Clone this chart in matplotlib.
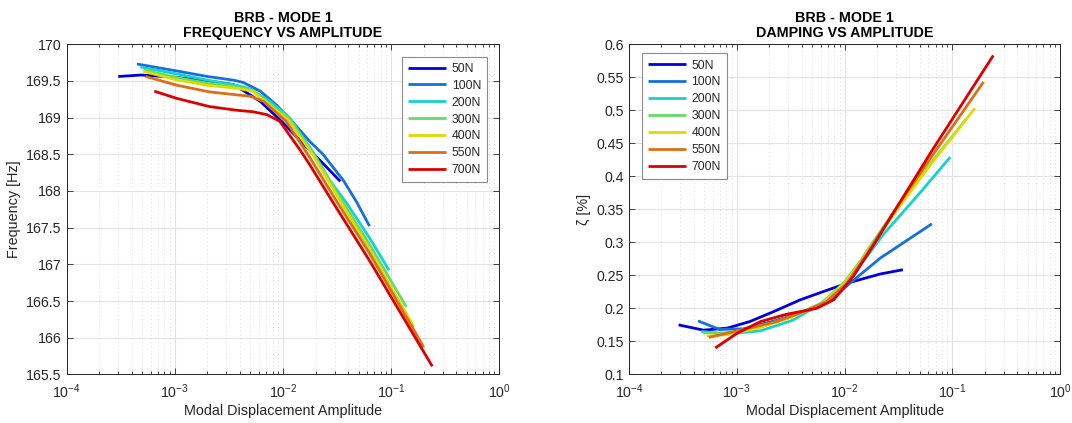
import matplotlib
matplotlib.use('Agg')
import matplotlib.pyplot as plt
from matplotlib.ticker import LogLocator, FormatStrFormatter, NullFormatter, MultipleLocator

plt.rcParams['font.family'] = ['Liberation Sans', 'DejaVu Sans']

loads = ['50N', '100N', '200N', '300N', '400N', '550N', '700N']
colors = ['#0000DC', '#1470DC', '#14D2D2', '#64DC64', '#DCDC00', '#DC6E14', '#DC0000']

# frequency vs amplitude
freq_amp = [
    [3.0e-4, 4.9e-4, 1.0e-3, 2.0e-3, 3.47e-3, 4.27e-3, 6.17e-3, 1.0e-2, 1.45e-2, 2.19e-2, 3.39e-2],
    [4.47e-4, 1.0e-3, 2.0e-3, 3.47e-3, 4.27e-3, 6.17e-3, 8.71e-3, 1.26e-2, 1.78e-2, 2.34e-2, 3.63e-2, 4.79e-2, 6.31e-2],
    [4.79e-4, 1.0e-3, 2.0e-3, 3.72e-3, 5.01e-3, 7.59e-3, 1.15e-2, 1.95e-2, 2.69e-2, 3.89e-2, 6.31e-2, 9.55e-2],
    [5.13e-4, 1.0e-3, 2.0e-3, 3.72e-3, 5.25e-3, 8.71e-3, 1.12e-2, 1.91e-2, 3.39e-2, 6.31e-2, 1.38e-1],
    [5.13e-4, 1.0e-3, 2.0e-3, 3.72e-3, 5.25e-3, 8.71e-3, 1.12e-2, 1.91e-2, 3.39e-2, 6.31e-2, 1.62e-1],
    [5.37e-4, 1.05e-3, 2.09e-3, 3.72e-3, 5.01e-3, 6.61e-3, 1.07e-2, 1.78e-2, 3.16e-2, 6.31e-2, 2.0e-1],
    [6.46e-4, 1.05e-3, 2.09e-3, 3.72e-3, 5.25e-3, 7.08e-3, 9.33e-3, 1.45e-2, 1.78e-2, 2.88e-2, 6.31e-2, 2.4e-1],
]
freq_val = [
    [169.56, 169.58, 169.55, 169.50, 169.45, 169.37, 169.22, 168.93, 168.68, 168.42, 168.13],
    [169.73, 169.64, 169.56, 169.51, 169.48, 169.36, 169.17, 168.92, 168.67, 168.50, 168.14, 167.85, 167.52],
    [169.69, 169.60, 169.51, 169.44, 169.39, 169.22, 169.00, 168.50, 168.15, 167.83, 167.36, 166.92],
    [169.65, 169.55, 169.47, 169.42, 169.37, 169.12, 169.00, 168.50, 167.90, 167.27, 166.42],
    [169.63, 169.52, 169.44, 169.40, 169.36, 169.09, 168.97, 168.48, 167.86, 167.20, 166.15],
    [169.56, 169.44, 169.35, 169.31, 169.29, 169.22, 168.95, 168.45, 167.85, 167.15, 165.87],
    [169.36, 169.26, 169.15, 169.10, 169.08, 169.04, 168.95, 168.55, 168.35, 167.85, 167.05, 165.61],
]

# damping vs amplitude
damp_amp = [
    [2.88e-4, 4.9e-4, 8.13e-4, 1.32e-3, 2.19e-3, 3.89e-3, 6.76e-3, 1.05e-2, 2.14e-2, 3.47e-2],
    [4.37e-4, 6.92e-4, 1.15e-3, 2.34e-3, 4.79e-3, 7.94e-3, 1.12e-2, 2.14e-2, 6.46e-2],
    [4.68e-4, 8.13e-4, 1.66e-3, 3.31e-3, 5.89e-3, 9.77e-3, 1.62e-2, 2.29e-2, 5.01e-2, 9.55e-2],
    [4.9e-4, 7.94e-4, 1.58e-3, 3.16e-3, 6.31e-3, 1.0e-2, 1.41e-2, 1.66e-2, 3.16e-2, 6.31e-2, 1.35e-1],
    [5.25e-4, 7.94e-4, 1.58e-3, 3.16e-3, 6.31e-3, 1.0e-2, 1.41e-2, 1.66e-2, 3.16e-2, 6.31e-2, 1.62e-1],
    [5.5e-4, 1.15e-3, 2.34e-3, 4.17e-3, 6.76e-3, 1.05e-2, 1.62e-2, 3.16e-2, 6.31e-2, 1.95e-1],
    [6.31e-4, 1.0e-3, 1.66e-3, 2.88e-3, 4.79e-3, 5.5e-3, 7.94e-3, 1.2e-2, 1.86e-2, 3.16e-2, 6.31e-2, 2.4e-1],
]
damp_val = [
    [0.175, 0.167, 0.170, 0.180, 0.195, 0.213, 0.227, 0.238, 0.252, 0.2585],
    [0.181, 0.168, 0.169, 0.182, 0.198, 0.217, 0.238, 0.276, 0.328],
    [0.165, 0.161, 0.166, 0.182, 0.206, 0.236, 0.279, 0.312, 0.375, 0.429],
    [0.163, 0.163, 0.171, 0.187, 0.209, 0.240, 0.272, 0.290, 0.356, 0.420, 0.487],
    [0.158, 0.160, 0.170, 0.186, 0.208, 0.238, 0.270, 0.288, 0.352, 0.418, 0.503],
    [0.156, 0.168, 0.180, 0.195, 0.210, 0.238, 0.283, 0.357, 0.428, 0.543],
    [0.140, 0.162, 0.180, 0.191, 0.198, 0.200, 0.213, 0.248, 0.296, 0.357, 0.436, 0.583],
]

txt = '#262626'
fig = plt.figure(figsize=(10.72, 4.23), dpi=100)
ax1 = fig.add_axes([0.0622, 0.1149, 0.4036, 0.7806])
ax2 = fig.add_axes([0.5868, 0.1149, 0.4021, 0.7806])


def style(ax, title, ylabel, ylim, ystep):
    ax.set_xscale('log')
    ax.set_xlim(1e-4, 1)
    ax.set_ylim(*ylim)
    ax.yaxis.set_major_locator(MultipleLocator(ystep))
    ax.yaxis.set_major_formatter(FormatStrFormatter('%g'))
    ax.xaxis.set_major_locator(LogLocator(base=10, numticks=10))
    ax.xaxis.set_minor_locator(LogLocator(base=10, subs=range(2, 10), numticks=10))
    ax.xaxis.set_minor_formatter(NullFormatter())
    ax.grid(True, which='major', color='#e3e3e3', lw=0.8)
    ax.grid(True, which='minor', axis='x', color='#dcdcdc', lw=0.7, ls=(0, (1, 3)))
    ax.set_axisbelow(True)
    ax.tick_params(which='both', direction='in', top=True, right=True, colors=txt,
                   labelsize=10.2, width=0.6)
    ax.tick_params(which='major', length=4)
    ax.tick_params(which='minor', length=2.5)
    ax.tick_params(axis='x', pad=6)
    for s in ax.spines.values():
        s.set_color(txt)
        s.set_linewidth(0.7)
    ax.set_title(title, fontsize=10.3, fontweight='bold', color='black', pad=5, linespacing=1.15)
    ax.set_xlabel('Modal Displacement Amplitude', fontsize=10.4, color=txt, labelpad=2)
    ax.set_ylabel(ylabel, fontsize=10.4, color=txt)


for i in range(len(loads)):
    ax1.plot(freq_amp[i], freq_val[i], color=colors[i], lw=2, label=loads[i],
             solid_capstyle='butt')
    ax2.plot(damp_amp[i], damp_val[i], color=colors[i], lw=2, label=loads[i],
             solid_capstyle='butt')

style(ax1, 'BRB - MODE 1\nFREQUENCY VS AMPLITUDE', 'Frequency [Hz]', (165.5, 170), 0.5)
style(ax2, 'BRB - MODE 1\nDAMPING VS AMPLITUDE', 'ζ [%]', (0.1, 0.6), 0.05)

leg_kw = dict(fontsize=8.8, handlelength=3.1, handletextpad=0.45, labelspacing=0.4,
              borderpad=0.5, borderaxespad=0, fancybox=False, framealpha=1,
              edgecolor='#8c8c8c')
l1 = ax1.legend(loc='upper right', bbox_to_anchor=(0.972, 0.962), **leg_kw)
l2 = ax2.legend(loc='upper left', bbox_to_anchor=(0.0295, 0.972), **leg_kw)
for l in (l1, l2):
    l.get_frame().set_linewidth(0.8)
    for t in l.get_texts():
        t.set_color(txt)

fig.savefig('out.png', dpi=100)
